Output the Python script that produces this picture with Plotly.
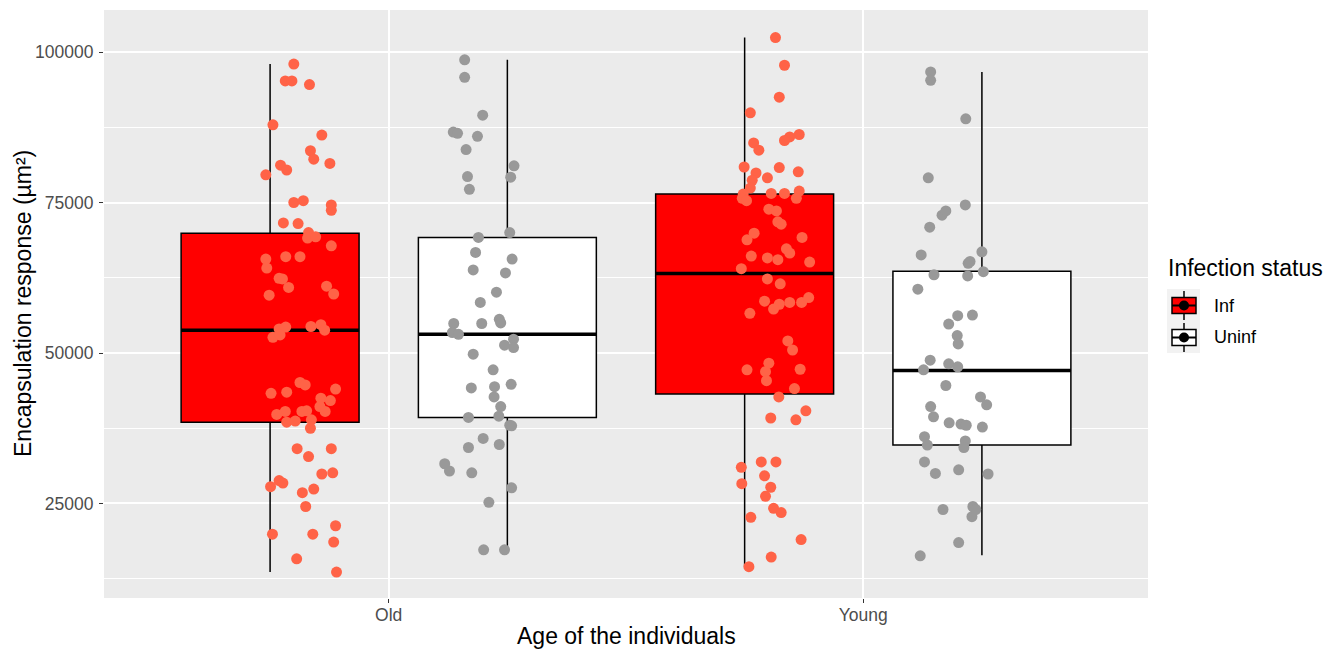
import plotly.graph_objects as go

# ---------------- data ----------------
categories = ["Old", "Young"]
status_labels = ["Inf", "Uninf"]

inf_lower = [13600, 14500]
inf_q1 = [38500, 43200]
inf_median = [53800, 63200]
inf_q3 = [69900, 76400]
inf_upper = [98000, 102400]

uninf_lower = [17300, 16400]
uninf_q1 = [39300, 34700]
uninf_median = [53100, 47100]
uninf_q3 = [69200, 63600]
uninf_upper = [98700, 96700]

old_inf_y = [98000, 95200, 95200, 94600, 87900, 86200, 83600, 82200, 81500, 81200, 80400, 79600,
             75000, 75300, 74600, 73700, 71600, 71500, 70000, 69100, 69300, 67800, 65600, 64100,
             66000, 66000, 62400, 62300, 60900, 61100, 59800, 59600, 54000, 54300, 52600, 53000,
             54400, 54700, 53800, 45100, 44700, 43300, 43500, 44000, 42500, 42100, 41100, 40300,
             40400, 40300, 40300, 39800, 38500, 38700, 38900, 37500, 34100, 34100, 32800, 29900,
             30100, 28800, 28400, 27800, 26800, 27400, 24500, 21300, 19900, 19900, 18600, 15800, 13600]
old_inf_jitter = [-0.200, -0.218, -0.204, -0.167, -0.244, -0.141, -0.165, -0.158, -0.124, -0.228, -0.215, -0.259,
                  -0.200, -0.180, -0.121, -0.121, -0.222, -0.191, -0.169, -0.171, -0.154, -0.121, -0.259, -0.257,
                  -0.217, -0.187, -0.231, -0.224, -0.211, -0.131, -0.116, -0.252, -0.231, -0.217, -0.244, -0.229,
                  -0.164, -0.143, -0.135, -0.187, -0.176, -0.248, -0.215, -0.112, -0.143, -0.123, -0.145, -0.134,
                  -0.173, -0.183, -0.218, -0.236, -0.215, -0.197, -0.163, -0.165, -0.193, -0.121, -0.169, -0.141,
                  -0.118, -0.231, -0.223, -0.249, -0.182, -0.158, -0.175, -0.112, -0.245, -0.160, -0.116, -0.194, -0.110]

old_uninf_y = [98700, 95800, 89500, 86700, 86500, 86000, 83800, 81100, 79200, 79300, 77200, 70000,
               69200, 66700, 65600, 63800, 63300, 60100, 58400, 54900, 54900, 55600, 55000, 53400,
               53100, 52300, 51300, 50900, 49800, 47200, 44200, 44400, 44800, 42700, 41100, 39500,
               39300, 38000, 37900, 35800, 34300, 34800, 31600, 30400, 30100, 27600, 25200, 17300, 17300]
old_uninf_jitter = [0.160, 0.160, 0.198, 0.136, 0.145, 0.187, 0.163, 0.264, 0.257, 0.166, 0.170, 0.255,
                    0.189, 0.183, 0.260, 0.178, 0.246, 0.227, 0.193, 0.137, 0.196, 0.233, 0.236, 0.134,
                    0.147, 0.263, 0.244, 0.263, 0.178, 0.220, 0.174, 0.223, 0.258, 0.222, 0.236, 0.232,
                    0.168, 0.255, 0.259, 0.199, 0.168, 0.233, 0.118, 0.128, 0.175, 0.259, 0.211, 0.200, 0.244]

young_inf_y = [102400, 97800, 92500, 89900, 86300, 85900, 85300, 84900, 83700, 80900,
               80800, 80100, 79900, 78700, 79100, 77400, 76900, 76500, 76500, 76400,
               75700, 75700, 75300, 73900, 73600, 71800, 71400, 69900, 68800, 69200,
               67300, 66600, 66100, 65800, 65500, 65100, 64000, 62300, 61500, 58600,
               58100, 57300, 58400, 58400, 59200, 56600, 52000, 50500, 48300, 47200,
               46900, 47300, 45400, 44100, 42700, 40400, 39200, 38900, 31900, 31900,
               31000, 29600, 28300, 27700, 26200, 24200, 23500, 22700, 19000, 16100, 14500]
young_inf_jitter = [-0.185, -0.166, -0.177, -0.238, -0.135, -0.155, -0.166, -0.231, -0.220, -0.251,
                    -0.177, -0.137, -0.226, -0.234, -0.202, -0.238, -0.135, -0.194, -0.166, -0.253,
                    -0.141, -0.255, -0.246, -0.199, -0.183, -0.180, -0.173, -0.230, -0.245, -0.129,
                    -0.162, -0.155, -0.236, -0.202, -0.180, -0.113, -0.257, -0.202, -0.175, -0.208,
                    -0.177, -0.189, -0.155, -0.130, -0.115, -0.239, -0.159, -0.149, -0.199, -0.245,
                    -0.206, -0.133, -0.204, -0.145, -0.178, -0.121, -0.195, -0.142, -0.215, -0.184,
                    -0.257, -0.208, -0.256, -0.195, -0.206, -0.189, -0.173, -0.237, -0.131, -0.194, -0.241]

young_uninf_y = [96700, 95300, 88900, 79100, 74600, 72900, 73600, 70900, 66300, 66800, 64900, 65200,
                 63500, 63000, 62800, 60600, 56200, 56300, 54800, 52900, 51500, 48800, 47200, 48200,
                 47700, 44600, 42700, 41400, 41100, 39400, 38400, 38200, 38000, 37700, 36100, 34700,
                 35400, 34300, 31900, 30000, 30600, 29900, 24000, 24500, 24000, 22800, 18500, 16300]
young_uninf_jitter = [0.142, 0.142, 0.216, 0.137, 0.215, 0.166, 0.174, 0.140, 0.122, 0.250, 0.221, 0.225,
                      0.253, 0.149, 0.220, 0.115, 0.199, 0.230, 0.180, 0.198, 0.200, 0.141, 0.127, 0.180,
                      0.199, 0.174, 0.247, 0.260, 0.142, 0.148, 0.181, 0.206, 0.217, 0.251, 0.129, 0.135,
                      0.215, 0.212, 0.129, 0.152, 0.201, 0.263, 0.168, 0.231, 0.237, 0.229, 0.201, 0.120]

y_ticks = [25000, 50000, 75000, 100000]
y_minor = [12500, 37500, 62500, 87500]

x_title = "Age of the individuals"
y_title = "Encapsulation response (µm²)"
legend_title = "Infection status"

# ---------------- style ----------------
FONT = "Liberation Sans, Arial, sans-serif"
DODGE = 0.25
BOX_W = 0.375
INF_FILL = "#FF0000"
UNINF_FILL = "#FFFFFF"
INF_PT = "#FF6347"
UNINF_PT = "#999999"
cat_pos = list(range(1, len(categories) + 1))

fig = go.Figure()

box_sets = [
    (inf_lower, inf_q1, inf_median, inf_q3, inf_upper, -DODGE, INF_FILL, "Inf"),
    (uninf_lower, uninf_q1, uninf_median, uninf_q3, uninf_upper, DODGE, UNINF_FILL, "Uninf"),
]
for lo, q1, med, q3, hi, off, fill, name in box_sets:
    fig.add_trace(go.Box(
        x=[p + off for p in cat_pos], lowerfence=lo, q1=q1, median=med, q3=q3, upperfence=hi,
        width=BOX_W, fillcolor=fill, line=dict(color="#000000", width=1.5),
        whiskerwidth=0, boxpoints=False, name=name, showlegend=False, hoverinfo="skip",
    ))

# thick median lines (drawn before points so points sit on top)
for med, off in [(inf_median, -DODGE), (uninf_median, DODGE)]:
    mx, my = [], []
    for p, m in zip(cat_pos, med):
        mx += [p + off - BOX_W / 2, p + off + BOX_W / 2, None]
        my += [m, m, None]
    fig.add_trace(go.Scatter(x=mx, y=my, mode="lines", line=dict(color="#000000", width=3.5),
                             showlegend=False, hoverinfo="skip"))

point_sets = [
    (old_inf_y, old_inf_jitter, cat_pos[0], INF_PT),
    (old_uninf_y, old_uninf_jitter, cat_pos[0], UNINF_PT),
    (young_inf_y, young_inf_jitter, cat_pos[1], INF_PT),
    (young_uninf_y, young_uninf_jitter, cat_pos[1], UNINF_PT),
]
for ys, jit, base, col in point_sets:
    fig.add_trace(go.Scatter(
        x=[base + j for j in jit], y=ys, mode="markers",
        marker=dict(color=col, size=11, line=dict(width=0)),
        showlegend=False, hoverinfo="skip",
    ))

# ---------------- manual legend (ggplot-like keys) and titles ----------------
L, R, T, B = 104, 193, 10, 51
W, H = 1341, 649
PW, PH = W - L - R, H - T - B


def ppx(x):
    return (x - L) / PW


def ppy(y):
    return (H - B - y) / PH


shapes = []
annotations = [
    dict(text=y_title, x=ppx(23), y=ppy(304), xref="paper", yref="paper", textangle=-90,
         xanchor="center", yanchor="middle", showarrow=False,
         font=dict(family=FONT, size=23, color="#000000")),
    dict(text=x_title, x=ppx(626), y=ppy(636), xref="paper", yref="paper",
         xanchor="center", yanchor="middle", showarrow=False,
         font=dict(family=FONT, size=23, color="#000000")),
    dict(text=legend_title, x=ppx(1166), y=ppy(268), xref="paper", yref="paper",
         xanchor="left", yanchor="middle", showarrow=False,
         font=dict(family=FONT, size=23, color="#000000")),
]
key_fills = [INF_FILL, UNINF_FILL]
for i, (lab, kf) in enumerate(zip(status_labels, key_fills)):
    top = 289 + 32 * i
    cy = top + 16.5
    shapes.append(dict(type="rect", xref="paper", yref="paper", x0=ppx(1167), x1=ppx(1200),
                       y0=ppy(top), y1=ppy(top + 32), fillcolor="#F2F2F2", line=dict(width=0)))
    shapes.append(dict(type="line", xref="paper", yref="paper", x0=ppx(1184), x1=ppx(1184),
                       y0=ppy(top + 2), y1=ppy(top + 31), line=dict(color="#000000", width=1.5)))
    shapes.append(dict(type="rect", xref="paper", yref="paper", x0=ppx(1172), x1=ppx(1196),
                       y0=ppy(cy - 8), y1=ppy(cy + 8), fillcolor=kf, line=dict(color="#000000", width=1.5)))
    shapes.append(dict(type="line", xref="paper", yref="paper", x0=ppx(1172), x1=ppx(1196),
                       y0=ppy(cy), y1=ppy(cy), line=dict(color="#000000", width=2)))
    shapes.append(dict(type="circle", xref="paper", yref="paper", x0=ppx(1179), x1=ppx(1189),
                       y0=ppy(cy - 5), y1=ppy(cy + 5), fillcolor="#000000", line=dict(width=0)))
    annotations.append(dict(text=lab, x=ppx(1212), y=ppy(cy), xref="paper", yref="paper",
                            xanchor="left", yanchor="middle", showarrow=False,
                            font=dict(family=FONT, size=18, color="#000000")))

fig.update_layout(
    width=W, height=H,
    margin=dict(l=L, r=R, t=T, b=B, pad=0, autoexpand=False),
    paper_bgcolor="#FFFFFF", plot_bgcolor="#EBEBEB",
    showlegend=False, boxmode="overlay",
    font=dict(family=FONT),
    shapes=shapes, annotations=annotations,
    xaxis=dict(
        range=[0.4, 2.6], tickmode="array", tickvals=cat_pos, ticktext=categories,
        showgrid=True, gridcolor="#FFFFFF", gridwidth=2, zeroline=False, showline=False,
        ticks="outside", ticklen=4, tickwidth=1.2, tickcolor="#333333", automargin=False,
        ticklabelstandoff=-3,
        tickfont=dict(family=FONT, size=17.5, color="#4D4D4D"),
    ),
    yaxis=dict(
        range=[9300, 106980], tickmode="array", tickvals=y_ticks, ticktext=[str(v) for v in y_ticks],
        showgrid=True, gridcolor="#FFFFFF", gridwidth=2, zeroline=False, showline=False,
        ticks="outside", ticklen=4, tickwidth=1.2, tickcolor="#333333", automargin=False,
        ticklabelstandoff=2,
        tickfont=dict(family=FONT, size=17.5, color="#4D4D4D"),
        minor=dict(tickmode="array", tickvals=y_minor, showgrid=True, gridcolor="#FFFFFF", gridwidth=1, ticks=""),
    ),
)

fig.write_html(
    "out.html",
    config={"displayModeBar": False},
    post_script="document.body.style.margin='0';document.body.style.padding='0';document.body.style.overflow='hidden';",
)
